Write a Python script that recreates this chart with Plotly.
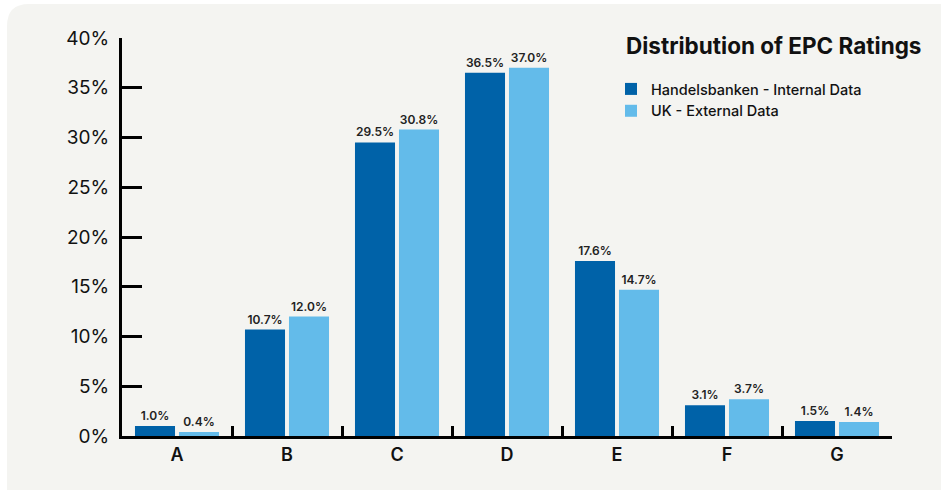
import plotly.graph_objects as go

categories = ["A", "B", "C", "D", "E", "F", "G"]
handelsbanken = [1.0, 10.7, 29.5, 36.5, 17.6, 3.1, 1.5]
uk_external = [0.4, 12.0, 30.8, 37.0, 14.7, 3.7, 1.4]
series_names = ["Handelsbanken - Internal Data", "UK - External Data"]
title_text = "Distribution of EPC Ratings"

DARK = "#0062a8"
LIGHT = "#63bbea"
FONT = "Inter, Arial, sans-serif"

W, H = 941, 490
L, R, T, B = 122, 49, 38, 54
pw, ph = W - L - R, H - T - B

def px_x(x):
    return (x - L) / pw

def px_y(y):
    return (H - B - y) / ph

fig = go.Figure()
for name, vals, col in [(series_names[0], handelsbanken, DARK), (series_names[1], uk_external, LIGHT)]:
    fig.add_trace(go.Bar(
        x=categories, y=vals, name=name, marker=dict(color=col, line=dict(width=0)),
        texttemplate="%{y:.1f}%", textposition="outside", cliponaxis=False,
        textfont=dict(family=FONT, size=12, color="#222222", weight=600),
    ))

# rounded panel background
x0, x1, y0, y1, r = 7, 960, 4, 510, 22
path = (
    f"M {px_x(x0 + r)},{px_y(y0)} L {px_x(x1 - r)},{px_y(y0)} "
    f"Q {px_x(x1)},{px_y(y0)} {px_x(x1)},{px_y(y0 + r)} "
    f"L {px_x(x1)},{px_y(y1 - r)} Q {px_x(x1)},{px_y(y1)} {px_x(x1 - r)},{px_y(y1)} "
    f"L {px_x(x0 + r)},{px_y(y1)} Q {px_x(x0)},{px_y(y1)} {px_x(x0)},{px_y(y1 - r)} "
    f"L {px_x(x0)},{px_y(y0 + r)} Q {px_x(x0)},{px_y(y0)} {px_x(x0 + r)},{px_y(y0)} Z"
)
fig.add_shape(type="path", path=path, xref="paper", yref="paper",
              fillcolor="#f4f4f1", line=dict(width=0), layer="below")

fig.add_annotation(text=title_text, xref="paper", yref="paper",
                   x=px_x(923), y=px_y(45), xanchor="right", yanchor="middle",
                   showarrow=False, font=dict(family=FONT, size=22.5, color="#111111", weight=700))

fig.update_layout(
    width=W, height=H,
    margin=dict(l=L, r=R, t=T, b=B, pad=0),
    paper_bgcolor="white", plot_bgcolor="rgba(0,0,0,0)",
    barmode="group", bargap=0.2, bargroupgap=0.09,
    showlegend=True,
    legend=dict(x=px_x(611), y=px_y(73), xanchor="left", yanchor="top",
                bgcolor="rgba(0,0,0,0)", font=dict(family=FONT, size=14.5, color="#111111", weight=500),
                itemwidth=30, tracegroupgap=0, traceorder="normal"),
    font=dict(family=FONT),
)
fig.update_xaxes(
    type="category", range=[-0.5, 6.5], showline=True, linecolor="black", linewidth=3,
    ticks="inside", tickson="boundaries", ticklen=10, tickwidth=3, tickcolor="black",
    tickfont=dict(family=FONT, size=18, color="#111111", weight=600),
    showgrid=False, zeroline=False,
)
fig.update_yaxes(
    range=[0, 40], dtick=5, ticksuffix="%", showline=True, linecolor="black", linewidth=3,
    ticks="inside", ticklen=20, tickwidth=3, tickcolor="black",
    tickfont=dict(family=FONT, size=19, color="#111111"),
    showgrid=False, zeroline=False, ticklabelstandoff=6,
)

fig.write_html("out.html")
